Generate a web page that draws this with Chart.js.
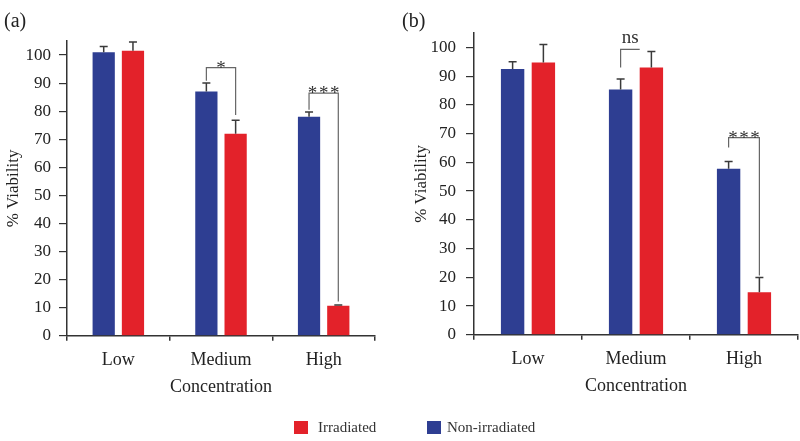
<!DOCTYPE html>
<html>
<head>
<meta charset="utf-8">
<script src="https://cdn.jsdelivr.net/npm/chart.js@4.4.1/dist/chart.umd.min.js"></script>
<style>
  body { margin: 0; background: #fff; }
  #wrap { position: relative; width: 800px; height: 441px; overflow: hidden; }
  #wrap canvas { position: absolute; top: 0; }
  .leg { position: absolute; top: 418px; font: 15px "Liberation Serif", serif; color: #333; line-height: 18px; }
  .sw { position: absolute; top: 421px; width: 14px; height: 13px; }
</style>
</head>
<body>
<div id="wrap">
  <canvas id="chartA" width="400" height="441" style="left:0"></canvas>
  <canvas id="chartB" width="400" height="441" style="left:400px"></canvas>
  <div class="sw" style="left:294px;background:#e3222a"></div>
  <div class="leg" style="left:318px">Irradiated</div>
  <div class="sw" style="left:427px;background:#2e3e92"></div>
  <div class="leg" style="left:447px">Non-irradiated</div>
</div>
<script>
const categorias = ['Low', 'Medium', 'High'];

// panel (a)
const noIrradA = [101, 87, 78];
const noIrradErrA = [2, 3, 1.7];
const irradA = [101.5, 72, 10.7];
const irradErrA = [3.1, 4.8, 0.3];
const corchetesA = [
  { cat: 1, top: 95.5, izq: 90.8, der: 78.6, texto: '*' },
  { cat: 2, top: 86.4, izq: 80.5, der: 12.2, texto: '***' }
];

// panel (b)
const noIrradB = [92.5, 85.3, 57.8];
const noIrradErrB = [2.5, 3.7, 2.5];
const irradB = [94.7, 93, 14.8];
const irradErrB = [6.3, 5.6, 5.1];
const corchetesB = [
  { cat: 1, top: 99.3, izq: 93, der: null, texto: 'ns' },
  { cat: 2, top: 68.6, izq: 65.2, der: 20.6, texto: '***' }
];

const AZUL = '#2e3e92';
const ROJO = '#e3222a';
const EJE = '#333';
const FUENTE = '"Liberation Serif", serif';

// barras de error y corchetes de significancia
const extras = {
  id: 'extras',
  afterDatasetsDraw(chart, args, opts) {
    const ctx = chart.ctx;
    const y = chart.scales.y;
    ctx.save();
    ctx.strokeStyle = '#3a3a3a';
    ctx.lineWidth = 1.5;
    chart.data.datasets.forEach((ds, i) => {
      const meta = chart.getDatasetMeta(i);
      meta.data.forEach((bar, j) => {
        const yTop = y.getPixelForValue(ds.data[j] + ds.errores[j]);
        ctx.beginPath();
        ctx.moveTo(bar.x, bar.y);
        ctx.lineTo(bar.x, yTop);
        ctx.moveTo(bar.x - 4, yTop);
        ctx.lineTo(bar.x + 4, yTop);
        ctx.stroke();
      });
    });

    ctx.strokeStyle = '#666';
    ctx.lineWidth = 1.2;
    ctx.fillStyle = '#333';
    ctx.textAlign = 'center';
    ctx.textBaseline = 'alphabetic';
    opts.corchetes.forEach(c => {
      const b0 = chart.getDatasetMeta(0).data[c.cat];
      const b1 = chart.getDatasetMeta(1).data[c.cat];
      const yt = y.getPixelForValue(c.top);
      const xd = c.der === null ? b1.x - b1.width / 2 : b1.x;
      ctx.beginPath();
      ctx.moveTo(b0.x, y.getPixelForValue(c.izq));
      ctx.lineTo(b0.x, yt);
      ctx.lineTo(xd, yt);
      if (c.der !== null) ctx.lineTo(xd, y.getPixelForValue(c.der));
      ctx.stroke();
      const esAst = c.texto.startsWith('*');
      ctx.font = '19px ' + FUENTE;
      if (esAst) {
        const txt = c.texto.split('').join(String.fromCharCode(8202));
        ctx.fillText(txt, (b0.x + xd) / 2, yt + 6);
      } else {
        ctx.fillText(c.texto, (b0.x + xd) / 2, yt - 6);
      }
    });

    ctx.font = '20px ' + FUENTE;
    ctx.textAlign = 'left';
    ctx.textBaseline = 'middle';
    ctx.fillStyle = '#222';
    ctx.fillText(opts.panel, opts.panelX, 22);
    ctx.restore();
  }
};

function crearPanel(id, noIrrad, noErr, irrad, irrErr, corchetes, panel, cfg) {
  return new Chart(document.getElementById(id), {
    type: 'bar',
    data: {
      labels: categorias,
      datasets: [
        { label: 'Non-irradiated', data: noIrrad, errores: noErr, backgroundColor: AZUL,
          categoryPercentage: 0.57, barPercentage: 0.76 },
        { label: 'Irradiated', data: irrad, errores: irrErr, backgroundColor: ROJO,
          categoryPercentage: 0.57, barPercentage: 0.76 }
      ]
    },
    plugins: [extras],
    options: {
      responsive: false,
      animation: false,
      layout: { padding: { left: 0, right: cfg.right, top: cfg.top, bottom: cfg.bottom } },
      plugins: {
        legend: { display: false },
        tooltip: { enabled: false },
        extras: { corchetes: corchetes, panel: panel, panelX: cfg.panelX }
      },
      scales: {
        x: {
          grid: { display: true, drawOnChartArea: false, drawTicks: true, tickLength: 5, color: EJE, lineWidth: 1.5 },
          border: { display: true, color: EJE, width: 1.5 },
          ticks: { color: '#222', padding: 9, font: { family: FUENTE, size: 18 } },
          title: { display: true, text: 'Concentration', color: '#222', padding: { top: -4, bottom: 0 },
                   font: { family: FUENTE, size: 18 } }
        },
        y: {
          min: 0,
          max: 105,
          afterFit: s => { s.width = cfg.yWidth; },
          grid: { display: true, drawOnChartArea: false, drawTicks: true, tickLength: 8, color: EJE, lineWidth: 1.2 },
          border: { display: true, color: EJE, width: 1.5 },
          ticks: { stepSize: 10, includeBounds: false, color: '#222', padding: cfg.tickPad,
                   font: { family: FUENTE, size: 17 } },
          title: { display: true, text: '% Viability', color: '#222', padding: { top: cfg.titlePad, bottom: 0 },
                   font: { family: FUENTE, size: 17 } }
        }
      }
    }
  });
}

crearPanel('chartA', noIrradA, noIrradErrA, irradA, irradErrA, corchetesA, '(a)',
  { right: 25, top: 41, bottom: 43, yWidth: 67, titlePad: 3, panelX: 4, tickPad: 8 });
crearPanel('chartB', noIrradB, noIrradErrB, irradB, irradErrB, corchetesB, '(b)',
  { right: 2, top: 33, bottom: 44, yWidth: 74, titlePad: 11, panelX: 2, tickPad: 10 });
</script>
</body>
</html>
